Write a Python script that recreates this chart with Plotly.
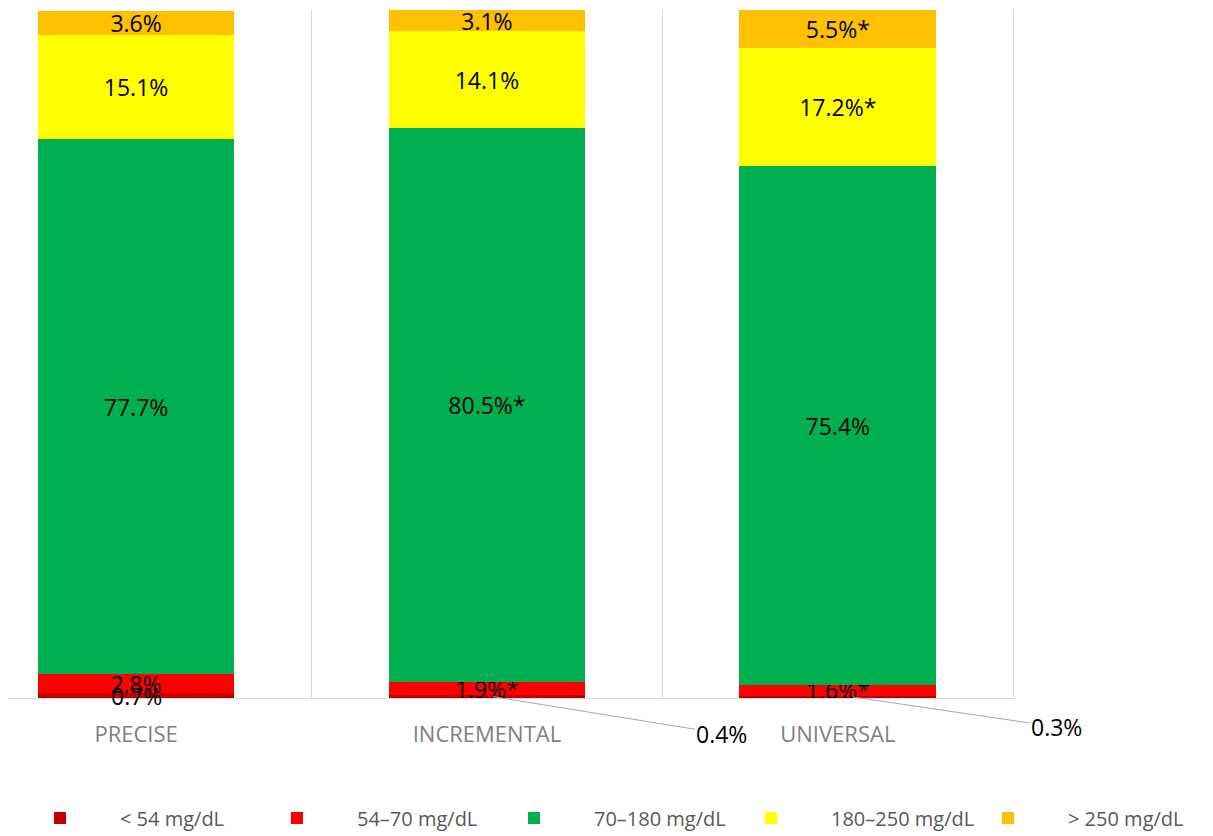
import plotly.graph_objects as go

# Time-in-range distribution per algorithm (% of time)
categories = ["PRECISE", "INCREMENTAL", "UNIVERSAL"]
series_names = ["< 54 mg/dL", "54–70 mg/dL", "70–180 mg/dL", "180–250 mg/dL", "> 250 mg/dL"]
below_54 = [0.7, 0.4, 0.3]
range_54_70 = [2.8, 1.9, 1.6]
range_70_180 = [77.7, 80.5, 75.4]
range_180_250 = [15.1, 14.1, 17.2]
above_250 = [3.6, 3.1, 5.5]

# statistically significant differences (marked with *)
sig_below_54 = [False, False, False]
sig_54_70 = [False, True, True]
sig_70_180 = [False, True, False]
sig_180_250 = [False, False, True]
sig_above_250 = [False, False, True]

# which "< 54" values get an outside call-out with a leader line
callout_below_54 = [False, True, True]

colors = ["#C00000", "#FF0000", "#00B050", "#FFFF00", "#FFC000"]

series_values = [below_54, range_54_70, range_70_180, range_180_250, above_250]
series_sig = [sig_below_54, sig_54_70, sig_70_180, sig_180_250, sig_above_250]

LABEL_FONT = "Open Sans, Liberation Sans, sans-serif"
VALUE_SIZE = 23


def fmt(v, sig):
    return f"{v:.1f}%" + ("*" if sig else "")


fig = go.Figure()
for i, (name, vals, sigs, col) in enumerate(zip(series_names, series_values, series_sig, colors)):
    # the thin "< 54" segments are labelled with annotations below
    texts = ["" if i == 0 else fmt(v, s) for v, s in zip(vals, sigs)]
    fig.add_trace(go.Bar(
        x=categories,
        y=vals,
        name=name,
        marker=dict(color=col, line=dict(width=0)),
        text=texts,
        textposition="inside",
        insidetextanchor="middle",
        textangle=0,
        textfont=dict(family=LABEL_FONT, size=VALUE_SIZE, color="#000000"),
        hoverinfo="skip",
    ))

# labels for the "< 54" segments: in place, or as call-outs with leader lines
callout_offsets = {1: (229, 37), 2: (204, 30)}
callout_dx = {1: 0.017, 2: 0.043}
for j, cat in enumerate(categories):
    label = fmt(below_54[j], sig_below_54[j])
    if callout_below_54[j]:
        ax, ay = callout_offsets[j]
        fig.add_annotation(
            x=j + callout_dx[j], y=below_54[j] / 2,
            xref="x", yref="y",
            text=label,
            showarrow=True, arrowhead=0, arrowwidth=1, arrowcolor="#A6A6A6",
            ax=ax, ay=ay, axref="pixel", ayref="pixel",
            font=dict(family=LABEL_FONT, size=VALUE_SIZE, color="#000000"),
        )
    else:
        fig.add_annotation(
            x=j, y=below_54[j] / 2,
            xref="x", yref="y",
            text=label, showarrow=False,
            xanchor="center", yanchor="middle",
            font=dict(family=LABEL_FONT, size=VALUE_SIZE, color="#000000"),
        )

fig.update_layout(
    barmode="stack",
    bargap=0.439,
    width=1213, height=836,
    margin=dict(l=8, r=198, t=10, b=138, autoexpand=False),
    paper_bgcolor="white",
    plot_bgcolor="white",
    uniformtext=dict(mode="show", minsize=VALUE_SIZE),
    showlegend=True,
    legend=dict(
        orientation="h",
        traceorder="normal",
        x=1.1688, xanchor="right",
        y=-0.1744, yanchor="middle",
        entrywidth=112, entrywidthmode="pixels",
        itemwidth=110,
        font=dict(family=LABEL_FONT, size=20, color="#595959"),
        bgcolor="rgba(0,0,0,0)",
    ),
    xaxis=dict(
        type="category",
        range=[-0.365, 2.505],
        tickson="boundaries",
        showgrid=True, gridcolor="#D9D9D9", gridwidth=1,
        showline=True, linecolor="#D9D9D9", linewidth=1,
        ticks="", ticklabelstandoff=17,
        tickfont=dict(family=LABEL_FONT, size=22, color="#7F7F7F"),
        zeroline=False,
    ),
    yaxis=dict(
        range=[0, 100],
        showgrid=False, zeroline=False, showline=False,
        showticklabels=False, ticks="",
    ),
)

fig.write_html("out.html")
